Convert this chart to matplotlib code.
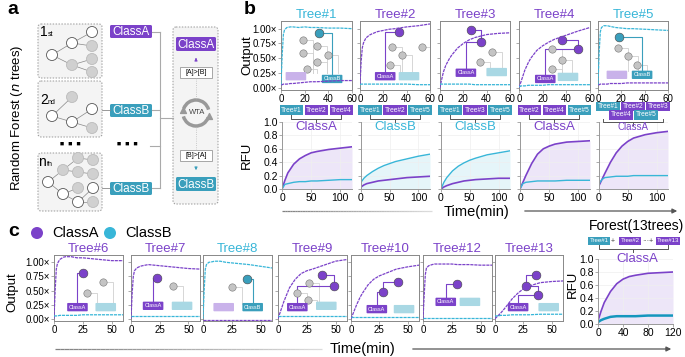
import numpy as np
import matplotlib
matplotlib.use("Agg")
import matplotlib.pyplot as plt
from matplotlib.patches import Circle, Rectangle, FancyBboxPatch, Arc
from matplotlib.collections import LineCollection

plt.rcParams['font.family'] = ['Liberation Sans', 'DejaVu Sans']

PURPLE = '#7b42c9'
CYAN = '#38b6d8'
TEAL = '#3a9fbc'
DCYAN = '#1597bd'
LPURPLE = '#c9b2ea'
LTEAL = '#a9d8e4'

# ---- data -------------------------------------------------------------
t_out = [0, 1, 2, 3, 5, 8, 10, 15, 20, 25, 30, 40, 50, 60]
t_rfu = [0, 5, 10, 20, 30, 40, 50, 60, 80, 100, 120]

# panel b, output of each tree (A = purple, B = cyan)
tree1_A = [0.05, 0.05, 0.06, 0.06, 0.06, 0.07, 0.07, 0.08, 0.09, 0.10, 0.10, 0.11, 0.12, 0.12]
tree1_B = [0.05, 0.55, 0.90, 0.98, 1.02, 1.03, 1.03, 1.02, 1.03, 1.02, 1.02, 1.01, 1.01, 1.00]
tree2_A = [0.05, 0.45, 0.68, 0.76, 0.84, 0.89, 0.91, 0.95, 0.97, 0.99, 1.00, 1.03, 1.05, 1.08]
tree2_B = [0.05, 0.06, 0.06, 0.06, 0.06, 0.06, 0.06, 0.06, 0.06, 0.06, 0.06, 0.06, 0.05, 0.05]
tree3_A = [0.00, 0.10, 0.19, 0.27, 0.38, 0.49, 0.55, 0.67, 0.75, 0.81, 0.85, 0.90, 0.92, 0.93]
tree3_B = [0.06, 0.06, 0.06, 0.06, 0.06, 0.06, 0.06, 0.06, 0.06, 0.06, 0.05, 0.05, 0.05, 0.05]
tree4_A = [0.00, 0.06, 0.12, 0.18, 0.30, 0.43, 0.50, 0.63, 0.71, 0.77, 0.82, 0.89, 0.96, 1.02]
tree4_B = [0.02, 0.02, 0.03, 0.03, 0.03, 0.04, 0.04, 0.04, 0.04, 0.05, 0.05, 0.05, 0.05, 0.05]
tree5_A = [0.05, 0.05, 0.06, 0.06, 0.06, 0.06, 0.07, 0.07, 0.07, 0.08, 0.08, 0.08, 0.08, 0.08]
tree5_B = [0.05, 0.60, 0.95, 1.02, 1.05, 1.05, 1.04, 1.02, 1.01, 1.00, 1.00, 0.99, 0.98, 0.97]

# panel c
tree6_A = [0.00, 0.50, 0.88, 0.98, 1.05, 1.09, 1.10, 1.10, 1.08, 1.08, 1.07, 1.05, 1.03, 1.03]
tree6_B = [0.05, 0.05, 0.05, 0.05, 0.06, 0.06, 0.06, 0.06, 0.06, 0.07, 0.07, 0.07, 0.07, 0.07]
tree7_A = [0.00, 0.45, 0.75, 0.85, 0.90, 0.93, 0.94, 0.96, 0.95, 0.94, 0.93, 0.91, 0.89, 0.88]
tree7_B = [0.04, 0.04, 0.04, 0.04, 0.04, 0.04, 0.04, 0.04, 0.04, 0.04, 0.04, 0.04, 0.04, 0.04]
tree8_A = [-0.02, -0.02, -0.02, -0.02, -0.02, -0.02, -0.02, -0.02, -0.02, -0.02, -0.02, -0.02, -0.02, -0.02]
tree8_B = [0.00, 0.50, 0.88, 0.96, 1.00, 1.01, 1.02, 1.02, 1.00, 0.99, 0.98, 0.96, 0.93, 0.90]
tree9_A = [0.00, 0.06, 0.12, 0.18, 0.30, 0.45, 0.55, 0.70, 0.80, 0.85, 0.88, 0.95, 1.02, 1.05]
tree9_B = [0.05, 0.05, 0.05, 0.05, 0.05, 0.05, 0.05, 0.05, 0.05, 0.05, 0.05, 0.05, 0.05, 0.05]
tree10_A = [0.00, 0.05, 0.10, 0.15, 0.25, 0.38, 0.45, 0.60, 0.70, 0.76, 0.80, 0.88, 0.92, 0.95]
tree10_B = [0.03, 0.03, 0.03, 0.03, 0.03, 0.03, 0.03, 0.03, 0.03, 0.03, 0.03, 0.03, 0.03, 0.03]
tree12_A = [0.00, 0.40, 0.78, 0.90, 0.94, 0.96, 0.97, 0.97, 0.97, 0.97, 0.96, 0.96, 0.95, 0.95]
tree12_B = [0.01, 0.01, 0.01, 0.01, 0.01, 0.01, 0.01, 0.01, 0.01, 0.01, 0.01, 0.01, 0.01, 0.01]
tree13_A = [0.00, 0.02, 0.04, 0.06, 0.10, 0.17, 0.22, 0.35, 0.45, 0.53, 0.58, 0.64, 0.66, 0.67]
tree13_B = [0.05, 0.05, 0.05, 0.05, 0.06, 0.06, 0.06, 0.07, 0.07, 0.07, 0.07, 0.08, 0.08, 0.08]

# panel b, RFU of each forest subset
rfu1_A = [0.00, 0.13, 0.24, 0.37, 0.45, 0.50, 0.54, 0.56, 0.59, 0.61, 0.63]
rfu1_B = [0.00, 0.07, 0.08, 0.10, 0.11, 0.11, 0.12, 0.12, 0.13, 0.14, 0.14]
rfu2_A = [0.03, 0.06, 0.08, 0.10, 0.12, 0.13, 0.14, 0.15, 0.17, 0.18, 0.19]
rfu2_B = [0.10, 0.16, 0.20, 0.26, 0.31, 0.35, 0.38, 0.41, 0.45, 0.49, 0.52]
rfu3_A = [0.00, 0.03, 0.05, 0.08, 0.10, 0.12, 0.13, 0.14, 0.15, 0.16, 0.16]
rfu3_B = [0.00, 0.10, 0.17, 0.27, 0.34, 0.39, 0.43, 0.46, 0.51, 0.54, 0.57]
rfu4_A = [0.00, 0.10, 0.20, 0.38, 0.52, 0.60, 0.64, 0.67, 0.70, 0.71, 0.72]
rfu4_B = [0.00, 0.08, 0.10, 0.11, 0.12, 0.12, 0.12, 0.12, 0.13, 0.13, 0.13]
rfu5_A = [0.05, 0.14, 0.23, 0.40, 0.54, 0.64, 0.71, 0.76, 0.81, 0.84, 0.86]
rfu5_B = [0.08, 0.14, 0.17, 0.18, 0.19, 0.19, 0.19, 0.20, 0.20, 0.20, 0.20]
forest_A = [0.05, 0.20, 0.33, 0.50, 0.62, 0.69, 0.73, 0.75, 0.78, 0.79, 0.80]
forest_B = [0.03, 0.06, 0.08, 0.11, 0.12, 0.12, 0.12, 0.12, 0.13, 0.13, 0.13]

out_yticks = [0, 0.25, 0.5, 0.75, 1.0]
out_ylabels = ['0.00×', '0.25×', '0.50×', '0.75×', '1.00×']

# ---- figure -----------------------------------------------------------
W, H = 685, 357
fig = plt.figure(figsize=(6.85, 3.57), dpi=100)


def box(x0, y0, x1, y1):
    return [x0 / W, 1 - y1 / H, (x1 - x0) / W, (y1 - y0) / H]


ov = fig.add_axes([0, 0, 1, 1])
ov.set_xlim(0, W)
ov.set_ylim(H, 0)
ov.axis('off')
ov.set_zorder(5)
ov.patch.set_alpha(0)


def draw_tree(ax, gray, colored, col, a_pos, b_pos, win):
    win_pos = a_pos if win == 'A' else b_pos
    lose_pos = b_pos if win == 'A' else a_pos
    for (x, y) in gray:
        ax.plot([x, x + 0.14, x + 0.14], [y, y, lose_pos[1] + 0.05], color='#d0d0d0',
                lw=0.6, transform=ax.transAxes, zorder=1)
    pts = list(colored) + [(win_pos[0], win_pos[1] + 0.05)]
    for (x0, y0), (x1, y1) in zip(pts[:-1], pts[1:]):
        ax.plot([x0, x1, x1], [y0, y0, y1], color=col, lw=0.8, transform=ax.transAxes, zorder=2)
    if gray:
        gx, gy = zip(*gray)
        ax.scatter(gx, gy, s=28, c='#c4c4c4', edgecolors='#777', linewidths=0.4,
                   transform=ax.transAxes, zorder=3)
    cx, cy = zip(*colored)
    ax.scatter(cx, cy, s=40, c=col, edgecolors='#444', linewidths=0.4,
               transform=ax.transAxes, zorder=3)
    for name, pos, c, lc in (('ClassA', a_pos, PURPLE, LPURPLE), ('ClassB', b_pos, TEAL, LTEAL)):
        solid = pos is win_pos
        fc = c if solid else lc
        ax.text(pos[0], pos[1], name, fontsize=4, color='white' if solid else fc,
                ha='center', va='center', transform=ax.transAxes, zorder=3,
                bbox=dict(boxstyle='round,pad=0.3,rounding_size=0.15', fc=fc, ec='none'))


def output_axes(rect, title, tcolor, a_vals, b_vals, xticks, ylabels, tree):
    ax = fig.add_axes(box(*rect))
    ax.plot(t_out, a_vals, color=PURPLE, lw=0.9, ls=(0, (2.5, 0.7)), zorder=5)
    ax.plot(t_out, b_vals, color=CYAN, lw=0.9, ls=(0, (2.5, 0.7)), zorder=5)
    ax.set_xlim(0, 60)
    ax.set_ylim(-0.04, 1.13)
    ax.set_xticks(xticks)
    ax.set_yticks(out_yticks)
    ax.set_yticklabels(out_ylabels if ylabels else [])
    ax.tick_params(labelsize=7, length=2, width=0.5, color='#888', pad=1)
    for s in ax.spines.values():
        s.set_color('#888')
        s.set_linewidth(0.7)
    ax.set_title(title, color=tcolor, fontsize=9.5, pad=2)
    draw_tree(ax, *tree)
    return ax


def rfu_axes(rect, a_vals, b_vals, win, ylabels, xticks, xlim, lwb=1.0, bcol=CYAN):
    ax = fig.add_axes(box(*rect))
    top = a_vals if win == 'A' else b_vals
    ax.fill_between(t_rfu, 0, top, color=PURPLE if win == 'A' else CYAN, alpha=0.13, lw=0)
    ax.plot(t_rfu, a_vals, color=PURPLE, lw=1.2)
    ax.plot(t_rfu, b_vals, color=bcol, lw=lwb)
    ax.set_xlim(*xlim)
    ax.set_ylim(0, 1.0)
    ax.set_xticks(xticks)
    ax.set_yticks([0, 0.2, 0.4, 0.6, 0.8, 1.0])
    if not ylabels:
        ax.set_yticklabels([])
    ax.grid(color='#efefef', lw=0.5)
    ax.spines[['top', 'right']].set_visible(False)
    for s in ('left', 'bottom'):
        ax.spines[s].set_color('#999')
        ax.spines[s].set_linewidth(0.7)
    ax.tick_params(labelsize=7.5, length=2, width=0.5, color='#888', pad=1)
    return ax


# ---- panel b, top row -------------------------------------------------
bx = [(281, 352), (360, 430), (440, 510), (519, 590), (598, 668)]
top_titles = ['Tree#1', 'Tree#2', 'Tree#3', 'Tree#4', 'Tree#5']
top_tcol = [CYAN, PURPLE, PURPLE, PURPLE, CYAN]
top_A = [tree1_A, tree2_A, tree3_A, tree4_A, tree5_A]
top_B = [tree1_B, tree2_B, tree3_B, tree4_B, tree5_B]
top_trees = [
    ([(0.31, 0.72), (0.51, 0.64), (0.31, 0.54), (0.66, 0.51), (0.51, 0.41), (0.37, 0.30)],
     [(0.54, 0.83)], TEAL, (0.21, 0.20), (0.72, 0.16), 'B'),
    ([(0.46, 0.62), (0.60, 0.51), (0.89, 0.62), (0.43, 0.36)],
     [(0.56, 0.84)], PURPLE, (0.36, 0.20), (0.70, 0.20), 'A'),
    ([(0.74, 0.55), (0.57, 0.41)],
     [(0.44, 0.87), (0.59, 0.70)], PURPLE, (0.37, 0.25), (0.81, 0.26), 'A'),
    ([(0.46, 0.59), (0.61, 0.43), (0.46, 0.30)],
     [(0.61, 0.72), (0.83, 0.59)], PURPLE, (0.37, 0.16), (0.69, 0.19), 'A'),
    ([(0.29, 0.61), (0.43, 0.49), (0.56, 0.36)],
     [(0.30, 0.77)], TEAL, (0.27, 0.22), (0.63, 0.22), 'B'),
]
for i, (x0, x1) in enumerate(bx):
    output_axes((x0, 21, x1, 90), top_titles[i], top_tcol[i], top_A[i], top_B[i],
                [0, 20, 40, 60], i == 0, top_trees[i])

# ---- panel b, bottom row ----------------------------------------------
rfu_A = [rfu1_A, rfu2_A, rfu3_A, rfu4_A, rfu5_A]
rfu_B = [rfu1_B, rfu2_B, rfu3_B, rfu4_B, rfu5_B]
rfu_win = ['A', 'B', 'B', 'A', 'A']
for i, (x0, x1) in enumerate(bx):
    rfu_axes((x0 + 1, 122, x1, 189), rfu_A[i], rfu_B[i], rfu_win[i], i == 0,
             [0, 50, 100], (0, 120))


def tag(x, y, text, color, fs=4.8):
    ov.text(x, y, text, fontsize=fs, color='white', ha='center', va='center',
            bbox=dict(boxstyle='square,pad=0.18', fc=color, ec='none'))


def bracket(x0, x1, y, h=4):
    ov.plot([x0, x0, x1, x1], [y - h, y, y, y - h], color='#555', lw=0.7)
    ov.plot([(x0 + x1) / 2] * 2, [y, y + 3], color='#555', lw=0.7)


sub_tags = [
    [('Tree#1', TEAL), ('Tree#2', PURPLE), ('Tree#4', PURPLE)],
    [('Tree#1', TEAL), ('Tree#2', PURPLE), ('Tree#5', TEAL)],
    [('Tree#1', TEAL), ('Tree#3', PURPLE), ('Tree#5', TEAL)],
    [('Tree#2', PURPLE), ('Tree#4', PURPLE), ('Tree#5', TEAL)],
]
sub_class = ['ClassA', 'ClassB', 'ClassB', 'ClassA']
for i in range(4):
    x0, x1 = bx[i]
    cx = (x0 + x1) / 2
    for j, (name, c) in enumerate(sub_tags[i]):
        tag(cx + (j - 1) * 25, 110, name, c)
    bracket(cx - 25, cx + 25, 119)
    ov.text(cx, 127, sub_class[i], fontsize=9.5, ha='center', va='center',
            color=PURPLE if sub_class[i] == 'ClassA' else CYAN)

cx5 = (bx[4][0] + bx[4][1]) / 2
for j, (name, c) in enumerate([('Tree#1', TEAL), ('Tree#2', PURPLE), ('Tree#3', PURPLE)]):
    tag(cx5 + (j - 1) * 25, 106.5, name, c)
for j, (name, c) in enumerate([('Tree#4', PURPLE), ('Tree#5', TEAL)]):
    tag(cx5 - 12 + j * 25, 115, name, c)
bracket(cx5 - 30, cx5 + 30, 121.5, h=3)
ov.text(cx5, 127.5, 'ClassA', fontsize=7, ha='center', va='center', color=PURPLE)

ov.text(247, 55, 'Output', rotation=90, fontsize=9.5, ha='center', va='center')
ov.text(247, 155, 'RFU', rotation=90, fontsize=9.5, ha='center', va='center')

# ---- panel c ----------------------------------------------------------
cx_ = [(54, 123), (131, 200), (203, 272), (278, 347), (351, 419), (423, 492), (495, 563)]
c_titles = ['Tree#6', 'Tree#7', 'Tree#8', 'Tree#9', 'Tree#10', 'Tree#12', 'Tree#13']
c_tcol = [PURPLE, PURPLE, CYAN, PURPLE, PURPLE, PURPLE, PURPLE]
c_A = [tree6_A, tree7_A, tree8_A, tree9_A, tree10_A, tree12_A, tree13_A]
c_B = [tree6_B, tree7_B, tree8_B, tree9_B, tree10_B, tree12_B, tree13_B]
c_trees = [
    ([(0.71, 0.59), (0.48, 0.42)], [(0.42, 0.73)], PURPLE, (0.34, 0.21), (0.75, 0.21), 'A'),
    ([(0.61, 0.53)], [(0.38, 0.65)], PURPLE, (0.32, 0.23), (0.74, 0.23), 'A'),
    ([(0.42, 0.52)], [(0.64, 0.64)], TEAL, (0.30, 0.21), (0.72, 0.21), 'B'),
    ([(0.45, 0.58), (0.28, 0.42), (0.43, 0.32)], [(0.64, 0.70), (0.81, 0.53)], PURPLE,
     (0.28, 0.21), (0.70, 0.23), 'A'),
    ([], [(0.69, 0.59), (0.47, 0.44)], PURPLE, (0.38, 0.18), (0.78, 0.18), 'A'),
    ([], [(0.49, 0.56)], PURPLE, (0.33, 0.29), (0.68, 0.29), 'A'),
    ([], [(0.60, 0.70), (0.45, 0.53), (0.63, 0.39)], PURPLE, (0.34, 0.21), (0.79, 0.21), 'A'),
]
for i, (x0, x1) in enumerate(cx_):
    output_axes((x0, 255, x1, 321), c_titles[i], c_tcol[i], c_A[i], c_B[i],
                [0, 25, 50], i == 0, c_trees[i])

fax = rfu_axes((598, 259, 673, 324), forest_A, forest_B, 'A', True, [0, 40, 80, 120],
               (0, 120), lwb=1.8, bcol=DCYAN)
ov.text(573, 284, 'RFU', rotation=90, fontsize=9.5, ha='center', va='center')
ov.text(637, 226, 'Forest(13trees)', fontsize=10, ha='center', va='center')
tag(599, 241, 'Tree#1', TEAL, 4.4)
ov.text(613, 241, '+', fontsize=5, ha='center', va='center', color='#444')
tag(630, 241, 'Tree#2', PURPLE, 4.4)
ov.text(648, 241, '···+', fontsize=5, ha='center', va='center', color='#444')
tag(668, 241, 'Tree#13', PURPLE, 4.4)
bracket(599, 668, 249)
ov.text(637, 259, 'ClassA', fontsize=9.5, ha='center', va='center', color=PURPLE)

ov.text(12, 292, 'Output', rotation=90, fontsize=9.5, ha='center', va='center')

# legend
ov.scatter([37, 110], [233, 233], s=75, c=[PURPLE, CYAN], edgecolors='none')
ov.text(52, 233, 'ClassA', fontsize=10.5, va='center')
ov.text(125, 233, 'ClassB', fontsize=10.5, va='center')


# time axes arrows
def fade_line(x0, x1, y):
    xs = np.linspace(x0, x1, 60)
    segs = [[(a, y), (b, y)] for a, b in zip(xs[:-1], xs[1:])]
    cols = [(0.45, 0.45, 0.45, a) for a in np.linspace(0.9, 0.25, len(segs))]
    ov.add_collection(LineCollection(segs, colors=cols, lw=0.9))


fade_line(282, 432, 211)
ov.annotate('', xy=(680, 211), xytext=(522, 211),
            arrowprops=dict(arrowstyle='-|>', color='#555', lw=0.9, mutation_scale=7))
ov.text(477, 212, 'Time(min)', fontsize=10.5, ha='center', va='center')
fade_line(55, 322, 349)
ov.annotate('', xy=(674, 349), xytext=(410, 349),
            arrowprops=dict(arrowstyle='-|>', color='#555', lw=0.9, mutation_scale=7))
ov.text(363, 349, 'Time(min)', fontsize=10.5, ha='center', va='center')

# ---- panel a ----------------------------------------------------------
for (x0, y0, x1, y1) in [(38, 24, 102, 78), (38, 81, 102, 137), (38, 153, 102, 211),
                         (173, 27, 218, 204)]:
    ov.add_patch(FancyBboxPatch((x0, y0), x1 - x0, y1 - y0,
                                boxstyle='round,pad=0,rounding_size=3', fc='#f4f4f4',
                                ec='#999', lw=0.7, ls=(0, (1.5, 1.5))))

trees_a = [
    ([(52, 55, 'w'), (72, 43, 'w'), (92, 32, 'w'), (92, 46, 'g'), (72, 65, 'g'),
      (92, 59, 'g'), (92, 72, 'g')],
     [(0, 1), (0, 4), (1, 2), (1, 3), (4, 5), (4, 6)]),
    ([(52, 116, 'w'), (72, 97, 'g'), (72, 122, 'w'), (92, 109, 'w'), (92, 128, 'g')],
     [(0, 1), (0, 2), (2, 3), (2, 4)]),
    ([(48, 182, 'w'), (63, 170, 'g'), (63, 194, 'w'), (78, 158, 'g'), (78, 172, 'g'),
      (78, 188, 'g'), (78, 202, 'w'), (93, 160, 'g'), (93, 174, 'g'), (93, 188, 'w'),
      (93, 202, 'g')],
     [(0, 1), (0, 2), (1, 3), (1, 4), (2, 5), (2, 6), (3, 7), (4, 8), (6, 9), (6, 10)]),
]
for nodes, edges in trees_a:
    for i, j in edges:
        ov.plot([nodes[i][0], nodes[j][0]], [nodes[i][1], nodes[j][1]], color='#888', lw=0.5)
    for x, y, k in nodes:
        ov.add_patch(Circle((x, y), 5.5, fc='white' if k == 'w' else '#d0d0d0',
                            ec='#555' if k == 'w' else '#bbb', lw=0.6, zorder=3))

ov.text(40, 32, '1', fontsize=10, va='center')
ov.text(48, 35, 'st', fontsize=5, va='center')
ov.text(40, 100, '2', fontsize=10, va='center')
ov.text(48, 103, 'nd', fontsize=5, va='center')
ov.text(38, 162, 'n', fontsize=10, va='center')
ov.text(46.5, 165, 'th', fontsize=5, va='center')
ov.text(17, 118, 'Random Forest ($\\it{n}$ trees)', rotation=90, fontsize=9.5,
        ha='center', va='center')
ov.text(7, 9, 'a', fontsize=14, fontweight='bold', va='center')
ov.text(244, 10, 'b', fontsize=14, fontweight='bold', va='center')
ov.text(8, 232, 'c', fontsize=14, fontweight='bold', va='center')


def class_box(x0, y0, x1, y1, name, c, fs=8.5):
    ov.add_patch(FancyBboxPatch((x0, y0), x1 - x0, y1 - y0,
                                boxstyle='round,pad=0,rounding_size=1.5', fc=c, ec='none'))
    ov.text((x0 + x1) / 2, (y0 + y1) / 2 + 0.5, name, fontsize=fs, color='white',
            ha='center', va='center')


class_box(110, 25, 152, 38, 'ClassA', PURPLE)
class_box(110, 104, 152, 117, 'ClassB', TEAL)
class_box(110, 182, 152, 195, 'ClassB', TEAL)
ov.plot([102, 110], [110, 110], color='#888', lw=0.6)
ov.plot([102, 110], [188, 188], color='#888', lw=0.6)
ov.plot([152, 160], [32, 32], color='#aaa', lw=0.8)
ov.plot([152, 160], [110, 110], color='#aaa', lw=0.8)
ov.plot([152, 160], [188, 188], color='#aaa', lw=0.8)
ov.plot([150, 160], [146, 146], color='#aaa', lw=0.8)
ov.plot([160, 160], [32, 188], color='#aaa', lw=0.8)
ov.plot([160, 173], [118, 118], color='#aaa', lw=0.8)
ov.text(70, 145, '■  ■  ■', fontsize=5, ha='center', va='center')
ov.text(127, 145, '■  ■  ■', fontsize=5, ha='center', va='center')

class_box(176, 37, 216, 51, 'ClassA', PURPLE)
class_box(176, 177, 216, 191, 'ClassB', TEAL)
for y0, txt in [(67, '[A]>[B]'), (150, '[B]>[A]')]:
    ov.add_patch(Rectangle((180, y0), 32, 11, fc='white', ec='#999', lw=0.6))
    ov.text(196, y0 + 5.5, txt, fontsize=5, ha='center', va='center')
ov.annotate('', xy=(196, 55), xytext=(196, 62),
            arrowprops=dict(arrowstyle='-|>', color=PURPLE, lw=0.7, mutation_scale=4))
ov.annotate('', xy=(196, 173), xytext=(196, 165),
            arrowprops=dict(arrowstyle='-|>', color=TEAL, lw=0.7, mutation_scale=4))
ov.plot([196, 196], [78, 99], color='#bbb', lw=0.6, ls=':')
ov.plot([196, 196], [127, 150], color='#bbb', lw=0.6, ls=':')
ov.add_patch(Arc((196, 113), 26, 26, theta1=200, theta2=345, color='#999', lw=2.5))
ov.add_patch(Arc((196, 113), 26, 26, theta1=20, theta2=165, color='#999', lw=2.5))
ov.scatter([183, 209], [110, 116], marker='^', s=18, c='#999')
ov.text(197, 113, 'WTA', fontsize=5.5, ha='center', va='center', color='#444')

fig.savefig('out.png', dpi=100)
